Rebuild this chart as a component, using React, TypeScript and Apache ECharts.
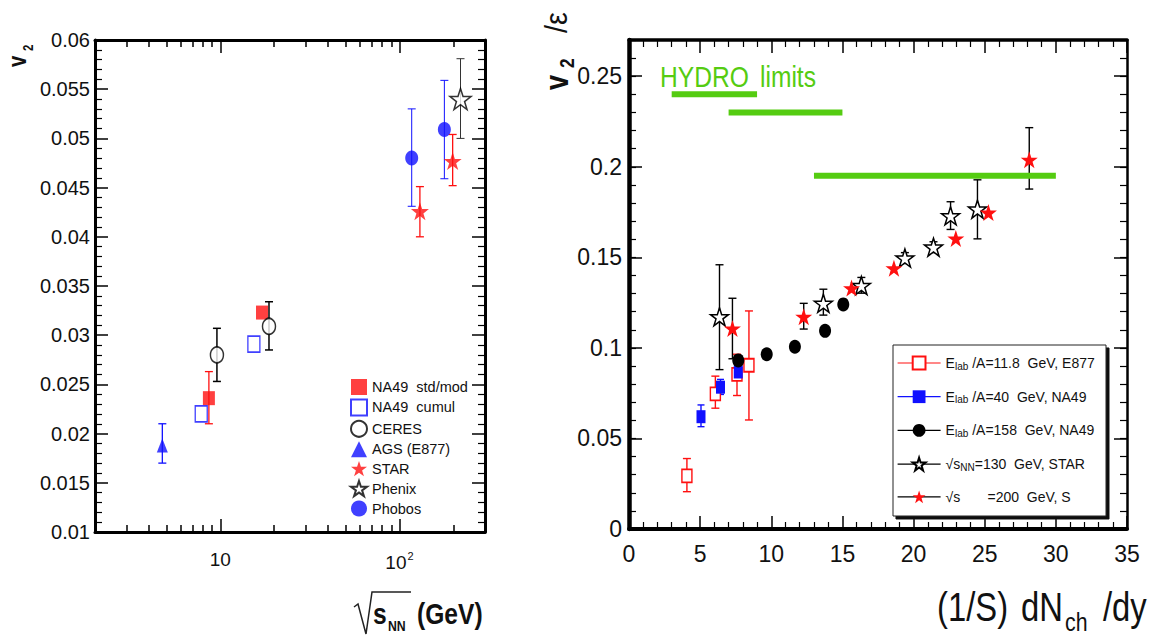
import { useEffect, useRef } from 'react';
import * as echarts from 'echarts';

const FONT = "'Liberation Sans', Arial, sans-serif";
const RED = '#ff1010';
const BLUE = '#1010ff';
const BLACK = '#000000';
const GREEN = '#55cc11';
const STAR = 'path://M50,2 L61.5,36.5 L97.6,36.5 L68.4,57.8 L79.5,92 L50,71 L20.5,92 L31.6,57.8 L2.4,36.5 L38.5,36.5 Z';
const NARROW_SCALE = 0.82;

// ---------- Left panel: v2 vs sqrt(s_NN) ----------
const na49StdX = [8.64, 17.1];
const na49StdY = [0.0236, 0.0323];
const na49StdLo = [0.021, 0.0323];
const na49StdHi = [0.0263, 0.0323];
const na49CumX = [7.83, 15.4];
const na49CumY = [0.022, 0.0291];
const ceresX = [9.58, 18.7];
const ceresY = [0.028, 0.0309];
const ceresLo = [0.0253, 0.0285];
const ceresHi = [0.0307, 0.0334];
const agsX = [4.75];
const agsY = [0.0188];
const agsLo = [0.017];
const agsHi = [0.021];
const starX = [130, 198];
const starY = [0.0426, 0.0477];
const starLo = [0.04, 0.0452];
const starHi = [0.0451, 0.0504];
const phenixX = [219];
const phenixY = [0.054];
const phenixLo = [0.05];
const phenixHi = [0.0581];
const phobosX = [117, 178];
const phobosY = [0.048, 0.0509];
const phobosLo = [0.0431, 0.0459];
const phobosHi = [0.053, 0.0559];
const logMinorTicks = [2, 3, 4, 5, 6, 7, 8, 9, 20, 30, 40, 50, 60, 70, 80, 90, 200, 300];

// ---------- Right panel: v2/eps vs (1/S) dNch/dy ----------
const e877X = [4.07, 6.07, 7.59, 8.43];
const e877Y = [0.0293, 0.0746, 0.0854, 0.0904];
const e877Lo = [0.0206, 0.0667, 0.0737, 0.0602];
const e877Hi = [0.0389, 0.0844, 0.0965, 0.1204];
const na4940X = [5.06, 6.43, 7.68];
const na4940Y = [0.062, 0.0783, 0.0867];
const na4940Lo = [0.0565, 0.0743, 0.083];
const na4940Hi = [0.0685, 0.0826, 0.0913];
const na49158X = [7.68, 9.68, 11.66, 13.78, 15.06];
const na49158Y = [0.0931, 0.0965, 0.1006, 0.1094, 0.124];
const star130X = [6.36, 13.66, 16.33, 19.39, 21.4, 22.6, 24.49];
const star130Y = [0.1172, 0.1246, 0.1344, 0.1496, 0.1556, 0.1729, 0.1766];
const star130Lo = [0.088, 0.1181, 0.1302, 0.1466, 0.1526, 0.1654, 0.1602];
const star130Hi = [0.1459, 0.1324, 0.1389, 0.1526, 0.1586, 0.1807, 0.1928];
const star200X = [7.27, 12.28, 15.64, 18.62, 22.97, 25.26, 28.13];
const star200Y = [0.1107, 0.1172, 0.133, 0.144, 0.1604, 0.1747, 0.2039];
const star200Lo = [0.094, 0.1104, 0.133, 0.144, 0.1604, 0.1747, 0.1877];
const star200Hi = [0.1274, 0.1246, 0.133, 0.144, 0.1604, 0.1747, 0.2216];
const hydroFrom = [3, 7, 13];
const hydroTo = [9, 15, 30];
const hydroY = [0.24, 0.23, 0.195];

const pts = (xs: number[], ys: number[]) => xs.map((x, i) => [x, ys[i]]);
const errs = (xs: number[], lo: number[], hi: number[]) =>
  xs.map((x, i) => [x, lo[i], hi[i]]).filter((d) => d[2] > d[1]);

const errSeries = (xi: number, yi: number, data: number[][], color: string, cap: number, width: number) => ({
  type: 'custom',
  xAxisIndex: xi,
  yAxisIndex: yi,
  data,
  z: 1,
  silent: true,
  encode: { x: 0, y: [1, 2] },
  renderItem: (_p: any, api: any) => {
    const x = api.value(0);
    const a = api.coord([x, api.value(1)]);
    const b = api.coord([x, api.value(2)]);
    const st = { stroke: color, lineWidth: width };
    return {
      type: 'group',
      children: [
        { type: 'line', shape: { x1: a[0], y1: a[1], x2: b[0], y2: b[1] }, style: st },
        { type: 'line', shape: { x1: a[0] - cap, y1: a[1], x2: a[0] + cap, y2: a[1] }, style: st },
        { type: 'line', shape: { x1: b[0] - cap, y1: b[1], x2: b[0] + cap, y2: b[1] }, style: st },
      ],
    };
  },
});

const tickStyle = { color: BLACK, width: 1.5 };
const minorStyle = { color: BLACK, width: 1.2 };

const xLog = (position: string, minor: boolean, showLabel: boolean) => ({
  gridIndex: 0,
  type: 'log',
  logBase: 10,
  min: 2,
  max: 300,
  position,
  axisLine: { show: !minor, onZero: false, lineStyle: { color: BLACK, width: 3 } },
  axisTick: minor
    ? { show: true, inside: true, length: 7, customValues: logMinorTicks, lineStyle: tickStyle }
    : { show: true, inside: true, length: 13, lineStyle: tickStyle },
  axisLabel: showLabel
    ? {
        show: true,
        interval: 0,
        margin: 18,
        fontFamily: FONT,
        fontSize: 19,
        color: '#111',
        formatter: (v: number) =>
          Math.abs(v - 10) < 1e-6 ? '{b|10}' : Math.abs(v - 100) < 1e-6 ? '{b|10}{sup|2}' : '',
        rich: {
          b: { fontFamily: FONT, fontSize: 19, color: '#111' },
          sup: { fontFamily: FONT, fontSize: 11, color: '#111', padding: [0, 0, 14, 1] },
        },
      }
    : { show: false },
  splitLine: { show: false },
  minorTick: { show: false },
});

const yAx = (gridIndex: number, min: number, max: number, interval: number, position: string, opts: any) => ({
  gridIndex,
  type: 'value',
  min,
  max,
  interval,
  position,
  splitLine: { show: false },
  ...opts,
});

const txt = (x: number, y: number, text: string, size: number, extra: any = {}, sx = NARROW_SCALE) => ({
  type: 'text',
  x,
  y,
  scaleX: sx,
  style: { text, fontFamily: FONT, fontSize: size, fill: '#111', align: 'left', verticalAlign: 'middle', ...extra },
});

export default function App() {
  const ref = useRef<HTMLDivElement>(null);
  useEffect(() => {
    if (!ref.current) return;
    const chart = echarts.init(ref.current, null, { renderer: 'svg', width: 1156, height: 637 });

    const openStar = { color: '#fff', borderColor: BLACK, borderWidth: 1.5 };
    const leftNames = ['NA49  std/mod', 'NA49  cumul', 'CERES', 'AGS (E877)', 'STAR', 'Phenix', 'Phobos'];
    const rightNames = ['E877', 'NA49-40', 'NA49-158', 'STAR-130', 'STAR-200'];
    const rightLabels: Record<string, string> = {
      'E877': '{n|E}{s|lab}{n| /A=11.8  GeV, E877}',
      'NA49-40': '{n|E}{s|lab}{n| /A=40  GeV, NA49}',
      'NA49-158': '{n|E}{s|lab}{n| /A=158  GeV, NA49}',
      'STAR-130': '{n|√s}{s|NN}{n|=130  GeV, STAR}',
      'STAR-200': '{up|√s       =200  GeV, S}',
    };

    const sc = (name: string, xs: number[], ys: number[], symbol: string, size: any, itemStyle: any) => ({
      name,
      type: 'scatter',
      xAxisIndex: 0,
      yAxisIndex: 0,
      data: pts(xs, ys),
      symbol,
      symbolSize: size,
      itemStyle,
      z: 3,
    });
    const ln = (name: string, xs: number[], ys: number[], symbol: string, size: any, itemStyle: any, lineColor: string) => ({
      name,
      type: 'line',
      xAxisIndex: 4,
      yAxisIndex: 2,
      data: pts(xs, ys),
      symbol,
      symbolSize: size,
      showSymbol: true,
      showAllSymbol: true,
      itemStyle,
      lineStyle: { color: lineColor, width: 1.2, opacity: 0 },
      z: 3,
    });

    const option: any = {
      animation: false,
      backgroundColor: '#fff',
      grid: [
        { left: 95, top: 40, width: 390, height: 492, containLabel: false, outerBoundsMode: 'none' },
        { left: 629, top: 40, width: 498, height: 489, containLabel: false, outerBoundsMode: 'none' },
      ],
      xAxis: [
        xLog('bottom', false, true),
        xLog('bottom', true, false),
        xLog('top', false, false),
        xLog('top', true, false),
        {
          gridIndex: 1,
          type: 'value',
          min: 0,
          max: 35,
          interval: 5,
          position: 'bottom',
          axisLine: { show: true, onZero: false, lineStyle: { color: BLACK, width: 4 } },
          axisTick: { show: true, inside: true, length: 13, lineStyle: tickStyle },
          minorTick: { show: true, splitNumber: 5, length: 7, lineStyle: minorStyle },
          axisLabel: { show: true, margin: 13, fontFamily: FONT, fontSize: 23, color: '#111' },
          splitLine: { show: false },
        },
        {
          gridIndex: 1,
          type: 'value',
          min: 0,
          max: 35,
          interval: 5,
          position: 'top',
          axisLine: { show: true, onZero: false, lineStyle: { color: BLACK, width: 3.5 } },
          axisTick: { show: true, inside: true, length: 13, lineStyle: tickStyle },
          minorTick: { show: true, splitNumber: 5, length: 7, lineStyle: minorStyle },
          axisLabel: { show: false },
          splitLine: { show: false },
        },
      ],
      yAxis: [
        yAx(0, 0.01, 0.06, 0.005, 'left', {
          axisLine: { show: true, onZero: false, lineStyle: { color: BLACK, width: 3 } },
          axisTick: { show: true, inside: true, length: 13, lineStyle: tickStyle },
          minorTick: { show: true, splitNumber: 5, length: 7, lineStyle: minorStyle },
          axisLabel: { show: true, margin: 5, fontFamily: FONT, fontSize: 20, color: '#111' },
        }),
        yAx(0, 0.01, 0.06, 0.005, 'right', {
          axisLine: { show: true, onZero: false, lineStyle: { color: BLACK, width: 3 } },
          axisTick: { show: true, inside: true, length: 13, lineStyle: tickStyle },
          minorTick: { show: true, splitNumber: 5, length: 7, lineStyle: minorStyle },
          axisLabel: { show: false },
        }),
        yAx(1, 0, 0.27, 0.05, 'left', {
          axisLine: { show: true, onZero: false, lineStyle: { color: BLACK, width: 4.5 } },
          axisTick: { show: true, inside: true, length: 13, lineStyle: tickStyle },
          axisLabel: { show: true, showMaxLabel: false, margin: 7, fontFamily: FONT, fontSize: 23, color: '#111' },
        }),
        yAx(1, 0, 0.27, 0.01, 'left', {
          axisLine: { show: false, onZero: false },
          axisTick: { show: true, inside: true, length: 7, lineStyle: minorStyle },
          axisLabel: { show: false },
        }),
        yAx(1, 0, 0.27, 0.05, 'right', {
          axisLine: { show: true, onZero: false, lineStyle: { color: BLACK, width: 2.5 } },
          axisTick: { show: true, inside: true, length: 13, lineStyle: tickStyle },
          axisLabel: { show: false },
        }),
        yAx(1, 0, 0.27, 0.01, 'right', {
          axisLine: { show: false, onZero: false },
          axisTick: { show: true, inside: true, length: 7, lineStyle: minorStyle },
          axisLabel: { show: false },
        }),
      ],
      legend: [
        {
          data: leftNames,
          orient: 'vertical',
          left: 350,
          top: 379,
          itemWidth: 16,
          itemHeight: 16,
          itemGap: 3.4,
          selectedMode: false,
          padding: 0,
          textStyle: { fontFamily: FONT, fontSize: 14.5, lineHeight: 16, color: '#111' },
        },
        {
          data: rightNames,
          orient: 'vertical',
          left: 897,
          top: 355,
          itemWidth: 43,
          itemHeight: 16,
          itemGap: 17.7,
          selectedMode: false,
          padding: 0,
          lineStyle: { width: 1.2, opacity: 1 },
          formatter: (name: string) => rightLabels[name],
          textStyle: {
            fontFamily: FONT,
            fontSize: 14,
            lineHeight: 16,
            color: '#111',
            rich: {
              n: { fontFamily: FONT, fontSize: 14, color: '#111', lineHeight: 16 },
              s: { fontFamily: FONT, fontSize: 10, color: '#111', verticalAlign: 'bottom', lineHeight: 10 },
              up: { fontFamily: FONT, fontSize: 14, color: '#111', verticalAlign: 'top', lineHeight: 14, padding: [0, 0, 8, 0] },
            },
          },
        },
      ],
      series: [
        // left panel error bars
        errSeries(0, 0, errs(agsX, agsLo, agsHi), BLUE, 4, 1.3),
        errSeries(0, 0, errs(na49StdX, na49StdLo, na49StdHi), RED, 4, 1.3),
        errSeries(0, 0, errs(ceresX, ceresLo, ceresHi), BLACK, 4, 1.5),
        errSeries(0, 0, errs(starX, starLo, starHi), RED, 4, 1.3),
        errSeries(0, 0, errs(phobosX, phobosLo, phobosHi), BLUE, 4, 1.0),
        errSeries(0, 0, errs(phenixX, phenixLo, phenixHi), '#333', 4, 1.0),
        // left panel markers
        sc('NA49  std/mod', na49StdX, na49StdY, 'rect', [12, 14], { color: RED }),
        sc('NA49  cumul', na49CumX, na49CumY, 'rect', [12, 16], { color: '#fff', borderColor: BLUE, borderWidth: 1.5 }),
        sc('CERES', ceresX, ceresY, 'circle', [13, 16], { color: '#fff', borderColor: BLACK, borderWidth: 1.6 }),
        sc('AGS (E877)', agsX, agsY, 'triangle', [11, 14], { color: BLUE }),
        sc('STAR', starX, starY, STAR, [18, 18], { color: RED }),
        sc('Phenix', phenixX, phenixY, STAR, [21, 21], openStar),
        sc('Phobos', phobosX, phobosY, 'circle', [13, 15], { color: BLUE }),
        // right panel hydro limits
        {
          type: 'custom',
          xAxisIndex: 4,
          yAxisIndex: 2,
          silent: true,
          z: 2,
          data: hydroFrom.map((x0, i) => [x0, hydroTo[i], hydroY[i]]),
          encode: { x: [0, 1], y: 2 },
          renderItem: (_p: any, api: any) => {
            const a = api.coord([api.value(0), api.value(2)]);
            const b = api.coord([api.value(1), api.value(2)]);
            return { type: 'rect', shape: { x: a[0], y: a[1] - 3, width: b[0] - a[0], height: 6 }, style: { fill: GREEN } };
          },
        },
        // right panel error bars
        errSeries(4, 2, errs(e877X, e877Lo, e877Hi), RED, 4, 1.4),
        errSeries(4, 2, errs(na4940X, na4940Lo, na4940Hi), BLUE, 3.5, 1.4),
        errSeries(4, 2, errs(star130X, star130Lo, star130Hi), BLACK, 4, 1.4),
        errSeries(4, 2, errs(star200X, star200Lo, star200Hi), BLACK, 4, 1.4),
        // right panel markers
        ln('E877', e877X, e877Y, 'rect', [10, 13], { color: '#fff', borderColor: RED, borderWidth: 1.6 }, RED),
        ln('NA49-40', na4940X, na4940Y, 'rect', [9, 13], { color: BLUE }, BLUE),
        ln('NA49-158', na49158X, na49158Y, 'circle', [12, 14], { color: BLACK }, BLACK),
        ln('STAR-130', star130X, star130Y, STAR, [18, 18], openStar, BLACK),
        ln('STAR-200', star200X, star200Y, STAR, [17, 17], { color: RED }, BLACK),
      ],
      graphic: [
        // legend box of the right panel
        {
          type: 'rect',
          z: 3,
          shape: { x: 893, y: 345, width: 213, height: 171 },
          style: { fill: '#fff', stroke: '#222', lineWidth: 1, shadowColor: '#111', shadowOffsetX: 3, shadowOffsetY: 3, shadowBlur: 0 },
        },
        // left y title v2
        {
          type: 'group',
          x: 17.5,
          y: 67,
          rotation: Math.PI / 2,
          children: [
            txt(0, 0, 'v', 25, { fontWeight: 'bold' }),
            txt(16, 11, '2', 14, { fontWeight: 'bold' }),
          ],
        },
        // right y title v2/eps
        {
          type: 'group',
          x: 557,
          y: 90,
          rotation: Math.PI / 2,
          children: [
            txt(0, 0, 'v', 33, { fontWeight: 'bold' }),
            txt(22, 10, '2', 21, { fontWeight: 'bold' }),
            txt(57, -2, '/ε', 32, {}, 0.9),
          ],
        },
        // left x title sqrt(s_NN) (GeV)
        {
          type: 'polyline',
          shape: { points: [[354, 607], [358, 604], [366, 634], [372, 592], [411, 592]] },
          style: { stroke: '#222', lineWidth: 1.5, fill: 'none' },
        },
        txt(373, 614, 's', 30, { fontWeight: 'bold' }),
        txt(388, 626, 'NN', 15, { fontWeight: 'bold' }),
        txt(417, 614, '(GeV)', 30, { fontWeight: 'bold' }),
        // right x title (1/S) dN_ch /dy
        txt(937, 607, '(1/S)', 40),
        txt(1021, 607, 'dN', 40),
        txt(1065, 622, 'ch', 26),
        txt(1103, 607, '/dy', 40),
        // hydro label
        txt(660, 77, 'HYDRO', 30, { fill: GREEN }),
        txt(760, 77, 'limits', 30, { fill: GREEN }),
      ],
    };
    chart.setOption(option);
    return () => chart.dispose();
  }, []);
  return (
    <div
      ref={ref}
      style={{ position: 'fixed', left: 0, top: 0, width: 1156, height: 637, background: '#fff' }}
    />
  );
}
